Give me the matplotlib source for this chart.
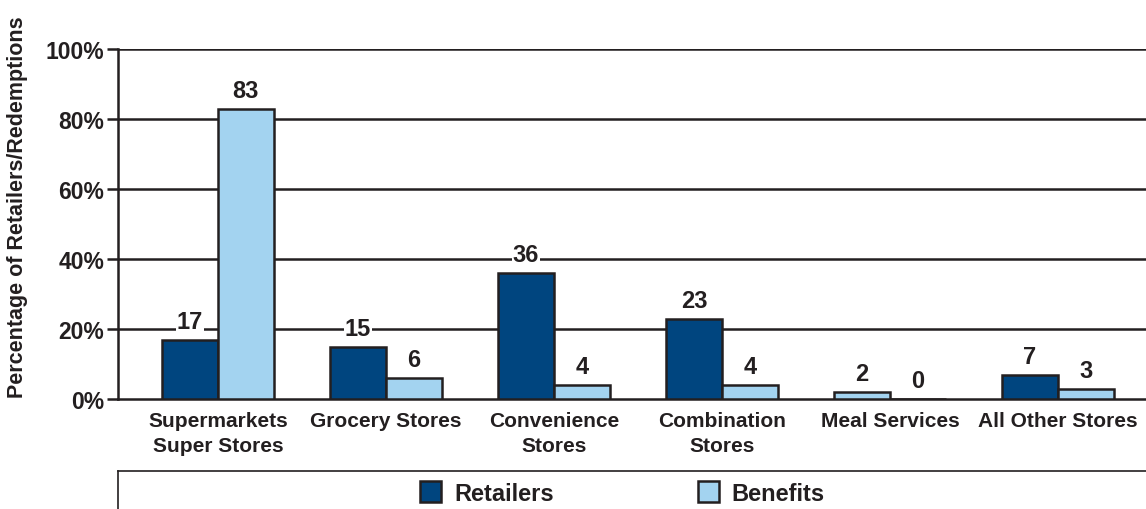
"""Part des commerçants et des prestations par type de magasin."""
import numpy as np
import matplotlib
matplotlib.use("Agg")
import matplotlib.pyplot as plt
from matplotlib.lines import Line2D

categories = ["Supermarkets\nSuper Stores", "Grocery Stores", "Convenience\nStores",
              "Combination\nStores", "Meal Services", "All Other Stores"]
retailers = [17, 15, 36, 23, 2, 7]
benefits = [83, 6, 4, 4, 0, 3]
yticks = [0, 20, 40, 60, 80, 100]

DARK = "#00457f"
LIGHT = "#a3d3f0"
EDGE = "#231f20"

plt.rcParams["font.family"] = ["Liberation Sans", "DejaVu Sans"]
plt.rcParams["font.weight"] = "bold"

fig = plt.figure(figsize=(11.46, 5.10), dpi=100)
ax = fig.add_axes([118 / 1146, 1 - 400 / 510, 1 - 118 / 1146, 350 / 510])

x = np.arange(len(categories))
w = 0.333
# the original draws the Meal Services retailer bar in the light colour
ret_colors = [LIGHT if c == "Meal Services" else DARK for c in categories]

for y in yticks[1:]:
    ax.axhline(y, color=EDGE, lw=1.8, zorder=1)

b1 = ax.bar(x - w / 2, retailers, w, color=ret_colors, edgecolor=EDGE, lw=1.8, zorder=3)
b2 = ax.bar(x + w / 2, benefits, w, color=LIGHT, edgecolor=EDGE, lw=1.8, zorder=3)

for bars, vals in ((b1, retailers), (b2, benefits)):
    for r, v in zip(bars, vals):
        ax.annotate(str(v), (r.get_x() + r.get_width() / 2, v), xytext=(0, 5),
                    textcoords="offset points", ha="center", va="bottom",
                    fontsize=17, fontweight="bold", color=EDGE, zorder=4,
                    bbox=dict(boxstyle="square,pad=0.05", fc="white", ec="none"))

ax.set_xlim(-0.595, 5.524)
ax.set_ylim(0, 100)
ax.set_yticks(yticks)
ax.set_yticklabels([f"{t}%" for t in yticks], fontsize=16.5, fontweight="bold", color=EDGE)
ax.set_xticks(x)
ax.set_xticklabels(categories, fontsize=15, fontweight="bold", color=EDGE, linespacing=1.4)
ax.tick_params(axis="y", length=8, width=1.8, color=EDGE, pad=2)
ax.tick_params(axis="x", length=0, pad=9)
for s in ("top", "right"):
    ax.spines[s].set_visible(False)
ax.spines["left"].set_linewidth(1.8)
ax.spines["left"].set_color(EDGE)
ax.spines["bottom"].set_linewidth(1.8)
ax.spines["bottom"].set_color(EDGE)

fig.text(18 / 1146, 1 - 207 / 510, "Percentage of Retailers/Redemptions", rotation=90,
         ha="center", va="center", fontsize=15.5, fontweight="bold", color=EDGE)

# cadre de la légende
ly = 1 - 472 / 510
lx = 118 / 1146
fig.add_artist(Line2D([lx, 1], [ly, ly], color=EDGE, lw=1.2, transform=fig.transFigure))
fig.add_artist(Line2D([lx, lx], [0, ly], color=EDGE, lw=1.2, transform=fig.transFigure))

fig.legend([b1[0], b2[0]], ["Retailers", "Benefits"], loc="center",
           bbox_to_anchor=(0.543, 1 - 494 / 510), ncol=2, frameon=False,
           prop=dict(size=17, weight="bold"), handlelength=0.9, handleheight=1.0,
           handletextpad=0.55, columnspacing=6.1, labelcolor=EDGE)
leg = fig.legends[0]
leg.legend_handles[1].set_facecolor(LIGHT)
leg.legend_handles[0].set_facecolor(DARK)

fig.savefig("out.png", dpi=100)
